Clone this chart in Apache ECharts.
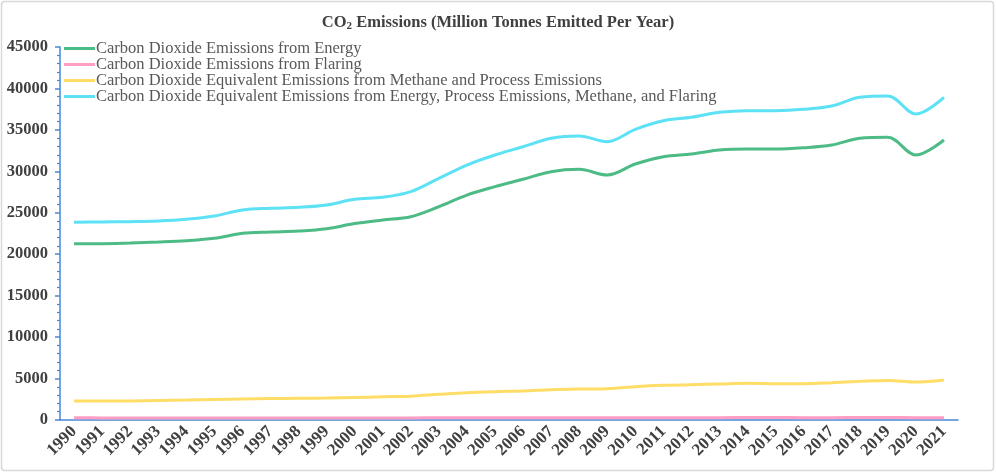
<!DOCTYPE html>
<html>
<head>
<meta charset="utf-8">
<script src="https://cdn.jsdelivr.net/npm/echarts@6/dist/echarts.min.js"></script>
<style>html,body{margin:0;padding:0;background:#fff}#c{width:996px;height:473px}</style>
</head>
<body>
<div id="c"></div>
<script>
var years = ['1990','1991','1992','1993','1994','1995','1996','1997','1998','1999','2000','2001','2002','2003','2004','2005','2006','2007','2008','2009','2010','2011','2012','2013','2014','2015','2016','2017','2018','2019','2020','2021'];
var energy = [21250,21270,21350,21470,21630,21920,22520,22680,22800,23080,23700,24130,24530,25730,27140,28150,29040,29960,30240,29560,30880,31750,32090,32570,32690,32690,32850,33180,33980,34100,31970,33780];
var flaring = [260,255,250,250,245,245,250,250,250,250,255,255,255,260,265,270,270,270,275,270,270,270,275,285,290,290,285,285,290,290,285,285];
var methaneProcess = [2290,2290,2300,2350,2400,2480,2540,2580,2620,2650,2720,2800,2880,3100,3300,3420,3500,3660,3740,3780,4020,4180,4260,4340,4420,4380,4380,4500,4660,4780,4580,4830];
var total = [23850,23890,23930,24010,24210,24610,25340,25540,25660,25940,26620,26870,27550,29150,30760,31970,32970,33980,34260,33580,35070,36100,36520,37120,37320,37320,37480,37880,38930,39090,36920,38930];
var seriesNames = ['Carbon Dioxide Emissions from Energy','Carbon Dioxide Emissions from Flaring','Carbon Dioxide Equivalent Emissions from Methane and Process Emissions','Carbon Dioxide Equivalent Emissions from Energy, Process Emissions, Methane, and Flaring'];
var colors = ['#4CBB85','#FF9EC4','#FFDD66','#5CE1F5'];
var serif = '"Liberation Serif","Times New Roman",serif';
var axisBlue = '#4A86D8';

var chart = echarts.init(document.getElementById('c'));
var dataSets = [energy, flaring, methaneProcess, total];
chart.setOption({
  animation: false,
  color: colors,
  graphic: [{type:'rect', shape:{x:1.5,y:1.5,width:992,height:469,r:3}, style:{fill:'none',stroke:'#D9D9D9',lineWidth:1.5}, silent:true}],
  title: {
    text: '{a|CO}{s|2}{a| Emissions (Million Tonnes Emitted Per Year)}',
    left: 'center', top: 8,
    textStyle: {
      rich: {
        a: {fontFamily: serif, fontWeight: 'bold', fontSize: 16.5, color: '#404040'},
        s: {fontFamily: serif, fontWeight: 'bold', fontSize: 11, color: '#404040', verticalAlign: 'bottom', padding:[8,0,0,0]}
      }
    }
  },
  legend: {
    orient: 'vertical', left: 59, top: 35,
    icon: 'rect', itemWidth: 31, itemHeight: 3, itemGap: -1,
    textStyle: {fontFamily: serif, fontSize: 16.5, color: '#595959', padding:[0,0,0,-4]},
    data: seriesNames
  },
  grid: {left: 60, right: 38, top: 47, bottom: 53},
  xAxis: {
    type: 'category', data: years, boundaryGap: true,
    axisLine: {lineStyle: {color: axisBlue, width: 1.5}},
    axisTick: {lineStyle: {color: axisBlue, width: 1.5}, length: 5},
    axisLabel: {rotate: 45, interval: 0, fontFamily: serif, fontWeight: 'bold', fontSize: 17, color: '#404040', margin: 9}
  },
  yAxis: {
    type: 'value', min: 0, max: 45000, interval: 5000,
    axisLine: {show: true, lineStyle: {color: axisBlue, width: 1.5}},
    axisTick: {show: true, lineStyle: {color: axisBlue, width: 1.5}, length: 5},
    minorTick: {show: true, splitNumber: 5, length: 3, lineStyle: {color: axisBlue, width: 1.2}},
    splitLine: {show: false},
    axisLabel: {fontFamily: serif, fontWeight: 'bold', fontSize: 16.5, color: '#404040', margin: 12,
      formatter: function(v){ return String(v); }}
  },
  series: seriesNames.map(function(n, i){
    return {name: n, type: 'line', data: dataSets[i], smooth: 0.35, showSymbol: false, symbol: 'none',
      lineStyle: {width: 3, color: colors[i]}};
  })
});
</script>
</body>
</html>
